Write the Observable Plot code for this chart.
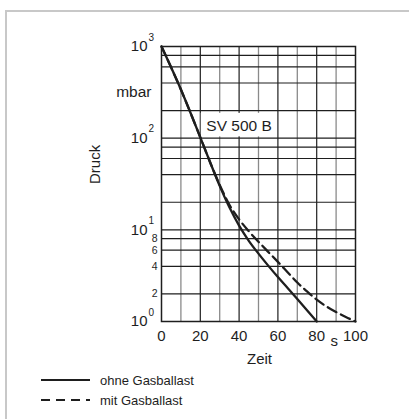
<!DOCTYPE html>
<html>
<head>
<meta charset="utf-8">
<script src="https://cdn.jsdelivr.net/npm/d3@7"></script>
<script src="https://cdn.jsdelivr.net/npm/@observablehq/plot@0.6"></script>
<style>
  html, body { margin: 0; padding: 0; background: #fff; width: 409px; height: 419px; overflow: hidden; }
  body { position: relative; font-family: "Liberation Sans", Arial, sans-serif; color: #1e1e1e; }
  #frame { position: absolute; left: 5px; top: 10px; width: 440px; height: 440px; border: 2px solid #c8c8c8; box-sizing: border-box; }
  #chart { position: absolute; left: 0; top: 0; }
  #legend { position: absolute; left: 0; top: 370px; width: 409px; font-size: 13px; }
  .row { display: flex; align-items: center; height: 20px; }
  .row svg { margin-left: 41px; margin-right: 10px; }
</style>
</head>
<body>
<div id="frame"></div>
<div id="chart"></div>
<div id="legend"></div>
<script>
// ---- data ----
const tSolid = [0, 5, 10, 15, 20, 25, 30, 35, 40, 45, 50, 55, 60, 65, 70, 75, 80];
const pSolid = [1000, 589, 339, 188, 102, 55, 30.2, 17.6, 11.1, 7.59, 5.5, 4.07, 3.05, 2.32, 1.76, 1.33, 1.0];

const tDashed = [0, 5, 10, 15, 20, 25, 30, 35, 40, 45, 50, 55, 60, 65, 70, 75, 80, 85, 90, 95, 100];
const pDashed = [1000, 589, 339, 188, 102, 55, 30.9, 18.8, 13.0, 9.66, 7.41, 5.75, 4.47, 3.45, 2.66, 2.13, 1.73, 1.46, 1.27, 1.12, 1.0];

const xTicks = [0, 20, 40, 60, 80, 100];
const xGridMajor = [20, 40, 60, 80];
const xGridMinor = [10, 30, 50, 70, 90];
const yGrid = [1, 2, 4, 6, 8, 10, 20, 40, 60, 80, 100, 200, 400, 600, 800, 1000];
const yDecades = [1, 10, 100, 1000];
const yExponents = ["0", "1", "2", "3"];
const ySmallTicks = [2, 4, 6, 8];

const seriesNames = ["ohne Gasballast", "mit Gasballast"];
const xLabel = "Zeit";
const xUnit = "s";
const yLabel = "Druck";
const yUnit = "mbar";
const modelLabel = {text: "SV 500 B", t: 40, p: 137};

const solid = tSolid.map((t, i) => ({t, p: pSolid[i]}));
const dashed = tDashed.map((t, i) => ({t, p: pDashed[i]}));
const decades = yDecades.map((v, i) => ({v, e: yExponents[i]}));

const ink = "#1e1e1e";
const font = "Liberation Sans, Arial, Helvetica, sans-serif";

const chart = Plot.plot({
  width: 409,
  height: 370,
  marginLeft: 161,
  marginRight: 54,
  marginTop: 46,
  marginBottom: 49,
  style: {fontFamily: font, background: "transparent", color: ink},
  x: {domain: [0, 100], axis: null},
  y: {type: "log", domain: [1, 1000], axis: null},
  marks: [
    Plot.ruleX(xGridMinor, {stroke: "#8a8a8a", strokeWidth: 1.3}),
    Plot.ruleX(xGridMajor, {stroke: ink, strokeWidth: 1.2}),
    Plot.ruleY(yGrid, {stroke: ink, strokeWidth: 1.2}),
    Plot.frame({stroke: ink, strokeWidth: 1.5}),
    // model label box
    Plot.rect([modelLabel], {x1: d => d.t - 19.5, x2: d => d.t + 18.5, y1: d => d.p * 0.755, y2: d => d.p * 1.36, fill: "white"}),
    Plot.text([modelLabel], {x: "t", y: "p", text: "text", fontSize: 15.5, fill: ink}),
    // curves
    Plot.line(solid, {x: "t", y: "p", stroke: ink, strokeWidth: 2.3, curve: "monotone-x"}),
    Plot.line(dashed, {x: "t", y: "p", stroke: ink, strokeWidth: 2.3, strokeDasharray: "10,5", curve: "monotone-x"}),
    // y tick labels
    Plot.text(decades, {y: "v", text: () => "10", frameAnchor: "left", dx: -14, textAnchor: "end", fontSize: 15, fill: ink}),
    Plot.text(decades, {y: "v", text: "e", frameAnchor: "left", dx: -13, dy: -9, textAnchor: "start", fontSize: 10, fill: ink}),
    Plot.text(ySmallTicks, {y: d => d, text: d => String(d), frameAnchor: "left", dx: -4, textAnchor: "end", fontSize: 10.5, fill: ink}),
    Plot.text([yUnit], {y: () => 316, text: d => d, frameAnchor: "left", dx: -10, textAnchor: "end", fontSize: 15.5, fill: ink}),
    Plot.text([yLabel], {y: () => 31.6, text: d => d, frameAnchor: "left", dx: -66, rotate: -90, fontSize: 15, fill: ink}),
    // x tick labels
    Plot.text(xTicks, {x: d => d, text: d => String(d), frameAnchor: "bottom", dy: 19, fontSize: 15, fill: ink}),
    Plot.text([xUnit], {x: () => 89, text: d => d, frameAnchor: "bottom", dy: 24, fontSize: 15, fill: ink}),
    Plot.text([xLabel], {x: () => 50.5, text: d => d, frameAnchor: "bottom", dy: 42, fontSize: 15, fill: ink})
  ]
});
document.getElementById("chart").appendChild(chart);

// legend
const legend = document.getElementById("legend");
seriesNames.forEach((name, i) => {
  const row = document.createElement("div");
  row.className = "row";
  row.innerHTML = `<svg width="49" height="6"><line x1="0" y1="3" x2="49" y2="3" stroke="${ink}" stroke-width="2.2" ${i === 1 ? 'stroke-dasharray="9,6"' : ''}/></svg><span>${name}</span>`;
  legend.appendChild(row);
});
</script>
</body>
</html>
